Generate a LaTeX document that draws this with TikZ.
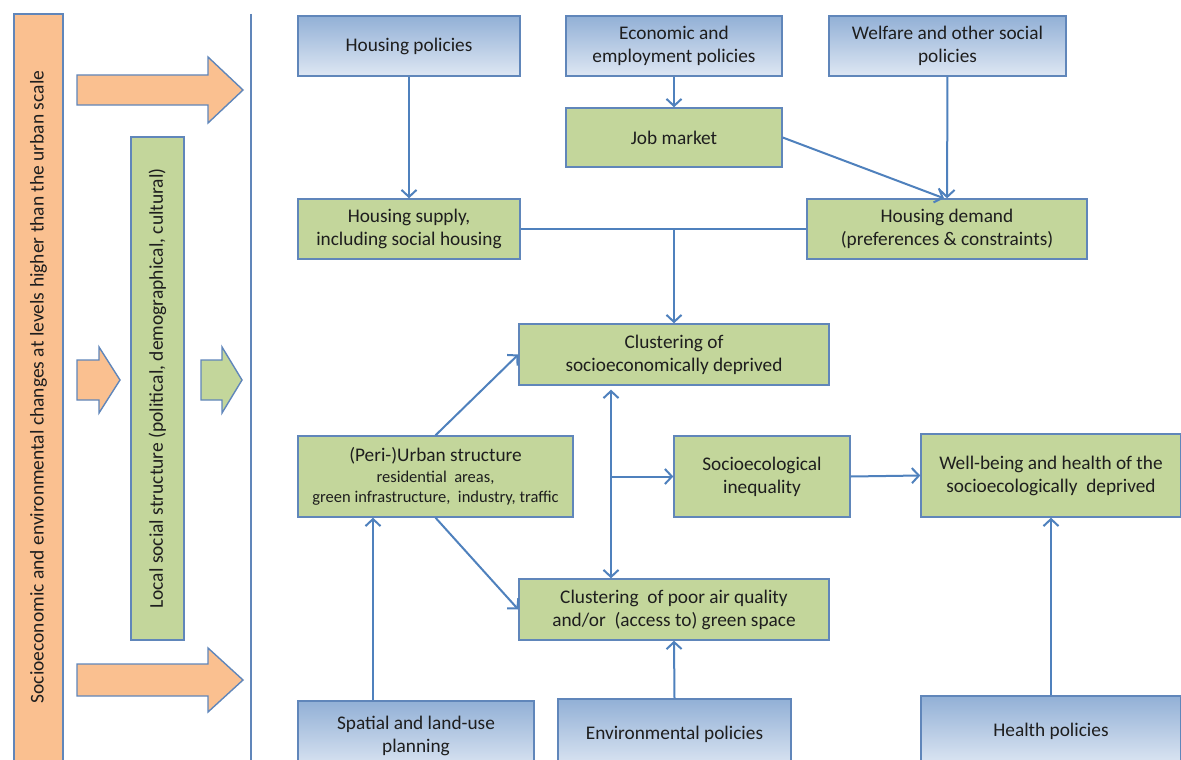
\documentclass[tikz,border=0pt]{standalone}
\usepackage{fontspec}
\setmainfont{Carlito}
\usepackage{xcolor}
\usetikzlibrary{arrows.meta}

\definecolor{linkblue}{RGB}{79,129,189}
\definecolor{edgeblue}{RGB}{96,134,186}
\definecolor{boxgreen}{RGB}{195,214,155}
\definecolor{boxorange}{RGB}{250,192,144}
\definecolor{policytop}{RGB}{146,176,214}
\definecolor{policybot}{RGB}{222,231,243}
\definecolor{textdark}{RGB}{30,30,30}

\newcommand{\smalltxt}{\fontsize{16.5}{19}\selectfont}

\tikzset{
  basebox/.style={draw=edgeblue, line width=1.4pt, inner sep=0pt, align=center,
    text=textdark, font=\fontsize{19.3}{23}\selectfont},
  policybox/.style={basebox, top color=policytop, bottom color=policybot},
  factorbox/.style={basebox, fill=boxgreen},
  link/.style={draw=linkblue, line width=2pt, -{Straight Barb[length=7pt,width=15pt]}},
  plainlink/.style={draw=linkblue, line width=2pt},
  fatarrow/.style={draw=edgeblue, line width=1.4pt, line join=miter}
}

\begin{document}
\begin{tikzpicture}[x=1pt,y=-1pt]
    \clip (0,0) rectangle (1181,760);
    \fill[white] (0,0) rectangle (1181,760);

    % left side: scales above the city
    \draw[fatarrow, fill=boxorange] (14,14) rectangle (63,790);
    \node[rotate=90, text=textdark, font=\fontsize{19.5}{23}\selectfont] (scale) at (38.5,387)
        {Socioeconomic and environmental changes at levels higher than the urban scale};
    \draw[fatarrow, fill=boxgreen] (131,137) rectangle (184,640);
    \node[rotate=90, text=textdark, font=\fontsize{19.5}{23}\selectfont] (local) at (157.5,388.5)
        {Local social structure (political, demographical, cultural)};

    \draw[fatarrow, fill=boxorange] (77,75) -- (208,75) -- (208,57) -- (243,90)
        -- (208,123) -- (208,105) -- (77,105) -- cycle;
    \draw[fatarrow, fill=boxorange] (77,664) -- (208,664) -- (208,648) -- (243,680)
        -- (208,712) -- (208,696) -- (77,696) -- cycle;
    \draw[fatarrow, fill=boxorange] (77,360) -- (99,360) -- (99,347) -- (120,380)
        -- (99,413) -- (99,400) -- (77,400) -- cycle;
    \draw[fatarrow, fill=boxgreen] (201,360) -- (222,360) -- (222,347) -- (242,380)
        -- (222,413) -- (222,400) -- (201,400) -- cycle;

    \draw[edgeblue, line width=1.4pt] (251,14) -- (251,760);

    % policies
    \node[policybox, minimum width=222, minimum height=60] (hpol) at (409,46) {Housing policies};
    \node[policybox, minimum width=216, minimum height=60] (econ) at (674,46) {Economic and\\employment policies};
    \node[policybox, minimum width=237, minimum height=60] (welf) at (947.5,46) {Welfare and other social\\policies};
    \node[policybox, minimum width=236, minimum height=70] (spat) at (416,736) {Spatial and land-use\\planning};
    \node[policybox, minimum width=233, minimum height=70] (env) at (674.5,734) {Environmental policies};
    \node[policybox, minimum width=260, minimum height=70] (health) at (1051,731) {Health policies};

    % factors
    \node[factorbox, minimum width=216, minimum height=59] (job) at (674,137.5) {Job market};
    \node[factorbox, minimum width=222, minimum height=60] (hsup) at (409,229) {Housing supply,\\including social housing};
    \node[factorbox, minimum width=280, minimum height=60] (hdem) at (947,229) {Housing demand\\(preferences \& constraints)};
    \node[factorbox, minimum width=310, minimum height=61] (clsoc) at (674,354.5) {Clustering of\\socioeconomically deprived};
    \node[factorbox, minimum width=275, minimum height=81] (urban) at (435.5,476.5)
        {(Peri-)Urban structure\\[-2pt]{\smalltxt residential\ \ areas,}\\[-3pt]
         {\smalltxt green infrastructure,\ \ industry, traffic}};
    \node[factorbox, minimum width=176, minimum height=81] (ineq) at (762,476.5) {Socioecological\\inequality};
    \node[factorbox, minimum width=260, minimum height=83] (well) at (1051,475.5) {Well-being and health of the\\socioecologically\ \ deprived};
    \node[factorbox, minimum width=310, minimum height=61] (clair) at (674,609.5) {Clustering\ \ of poor air quality\\and/or\ \ (access to) green space};

    % connectors
    \draw[link] (hpol) -- (hsup);
    \draw[link] (econ) -- (job);
    \draw[link] (welf) -- (hdem);
    \draw[link] (job.east) -- ([xshift=-3pt]hdem.north);
    \draw[plainlink] (hsup.east) -- (hdem.west);
    \coordinate (join) at (hsup.east -| clsoc.north);
    \draw[link] (join) -- (clsoc.north);
    \draw[link] (urban.north) -- (clsoc.west);
    \draw[link] (urban.south) -- (clair.west);
    \draw[link, {Straight Barb[length=7pt,width=15pt]}-{Straight Barb[length=7pt,width=15pt]}]
        ([xshift=-63pt,yshift=-4pt]clsoc.south) -- ([xshift=-63pt]clair.north);
    \coordinate (split) at ([xshift=-63pt]clsoc.south |- ineq.west);
    \draw[link] (split) -- (ineq.west);
    \draw[link] (ineq.east) -- (well.west);
    \draw[link] ([xshift=-62.5pt]urban.south |- spat.north) -- ([xshift=-62.5pt]urban.south);
    \draw[link] (env.north) -- (clair.south);
    \draw[link] (health.north) -- (well.south);
\end{tikzpicture}
\end{document}
